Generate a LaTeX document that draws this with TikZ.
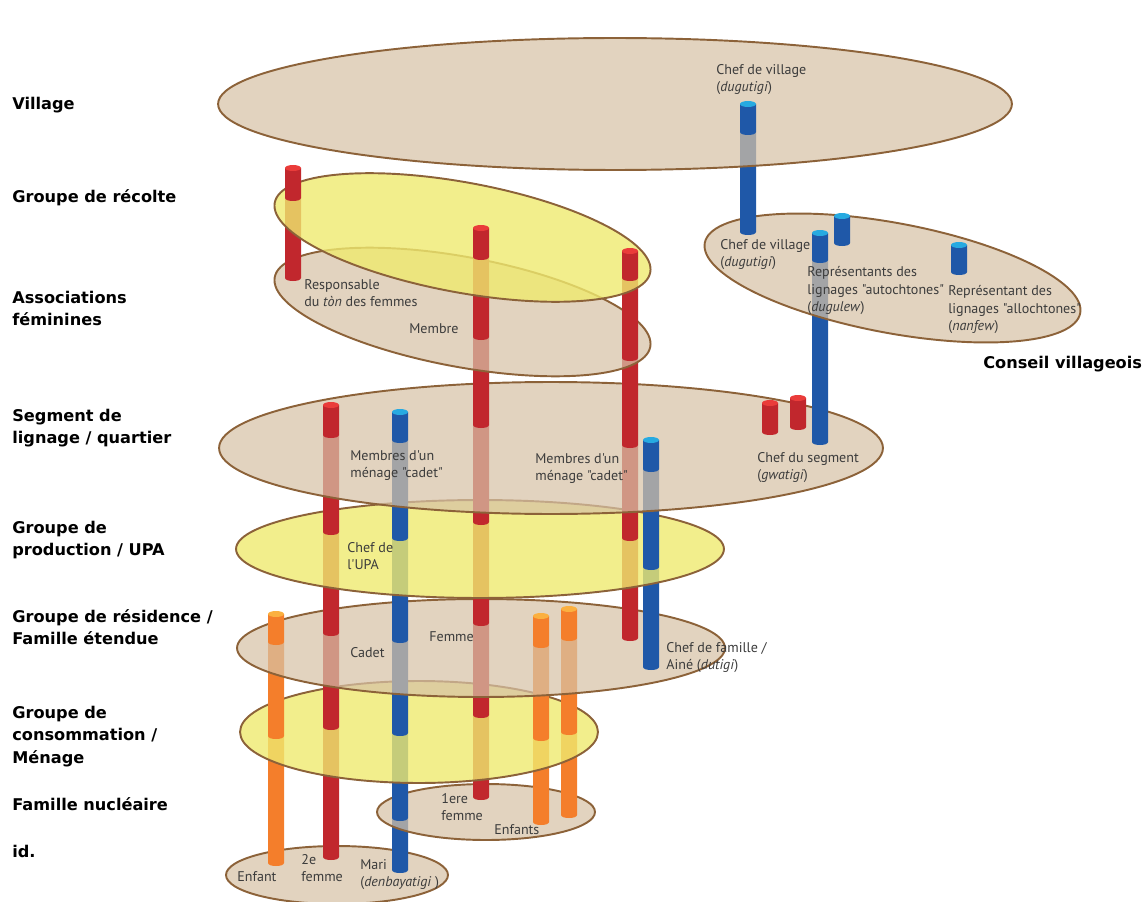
\documentclass[tikz,border=0pt]{standalone}
\usepackage{fontspec}
\usepackage{tikz}
\usetikzlibrary{positioning}
\newfontfamily\lvlfont{DejaVu Sans}
\newfontfamily\lblfont{PT Sans}
\definecolor{platebeige}{RGB}{215,194,166}
\definecolor{plateyellow}{RGB}{239,234,111}
\definecolor{platerim}{RGB}{140,98,57}
\definecolor{pillarred}{RGB}{193,39,45}
\definecolor{redtop}{RGB}{234,60,58}
\definecolor{pillarblue}{RGB}{31,88,168}
\definecolor{bluetop}{RGB}{39,170,225}
\definecolor{pillarorange}{RGB}{244,126,43}
\definecolor{orangetop}{RGB}{251,176,64}
\definecolor{roletext}{RGB}{60,60,60}
\tikzset{
    plate/.style={draw=platerim, line width=1.1pt, fill opacity=0.72},
    beigeplate/.style={plate, fill=platebeige},
    yellowplate/.style={plate, fill=plateyellow, fill opacity=0.8},
    level/.style={anchor=north west, inner sep=0pt, align=left, font=\lvlfont\bfseries\fontsize{9.2}{12.7}\selectfont},
    role/.style={anchor=north west, inner sep=0pt, align=left, text=roletext, font=\lblfont\fontsize{8}{10}\selectfont}
}
% one piece of a post: x, bottom, top, colour
\newcommand{\tube}[4]{\fill[#4] ({#1-8},#3) -- ({#1-8},#2) .. controls ({#1-8},{#2+4}) and ({#1+8},{#2+4}) .. ({#1+8},#2) -- ({#1+8},#3) -- cycle;}
\newcommand{\tubetop}[3]{\fill[#3] (#1,#2) ellipse [x radius=0.16cm, y radius=0.06cm];}

\begin{document}
\begin{tikzpicture}[x=0.02cm, y=-0.02cm]
\useasboundingbox (0,0) rectangle (1142,902);

% id.
\draw[beigeplate] (337,875) ellipse [x radius=2.22cm, y radius=0.58cm];
\tube{331}{857}{727}{pillarred}
\tube{400}{870}{818}{pillarblue}
\tube{276}{863}{736}{pillarorange}

% famille nucleaire
\draw[beigeplate] (486,812) ellipse [x radius=2.18cm, y radius=0.56cm];
\tube{481}{797}{715}{pillarred}
\tube{400}{818}{733}{pillarblue}
\tube{541}{822}{738}{pillarorange}
\tube{569}{815}{732}{pillarorange}

% menage
\draw[yellowplate] (419,732) ellipse [x radius=3.58cm, y radius=1.02cm];
\tube{481}{715}{623}{pillarred}
\tube{331}{727}{633}{pillarred}
\tube{400}{733}{640}{pillarblue}
\tube{276}{736}{642}{pillarorange}
\tube{541}{738}{645}{pillarorange}
\tube{569}{732}{638}{pillarorange}

% residence
\draw[beigeplate] (481,648) ellipse [x radius=4.88cm, y radius=0.98cm];
\tube{481}{623}{522}{pillarred}
\tube{630}{638}{538}{pillarred}
\tube{331}{633}{532}{pillarred}
\tube{400}{640}{538}{pillarblue}
\tube{651}{667}{567}{pillarblue}
\tube{276}{642}{614}{pillarorange}\tubetop{276}{614}{orangetop}
\tube{541}{645}{616}{pillarorange}\tubetop{541}{616}{orangetop}
\tube{569}{638}{609}{pillarorange}\tubetop{569}{609}{orangetop}

% UPA
\draw[yellowplate] (480,549) ellipse [x radius=4.88cm, y radius=0.98cm];
\tube{481}{522}{425}{pillarred}
\tube{630}{538}{445}{pillarred}
\tube{331}{532}{435}{pillarred}
\tube{400}{538}{440}{pillarblue}
\tube{651}{567}{469}{pillarblue}

% segment de lignage
\draw[beigeplate] (551,448) ellipse [x radius=6.64cm, y radius=1.32cm];
\tube{481}{425}{337}{pillarred}
\tube{630}{445}{358}{pillarred}
\tube{331}{435}{405}{pillarred}\tubetop{331}{405}{redtop}
\tube{400}{440}{412}{pillarblue}\tubetop{400}{412}{bluetop}
\tube{651}{469}{440}{pillarblue}\tubetop{651}{440}{bluetop}
\tube{820}{442}{260}{pillarblue}
\tube{770}{432}{403}{pillarred}\tubetop{770}{403}{redtop}
\tube{798}{427}{398}{pillarred}\tubetop{798}{398}{redtop}

% associations feminines
\draw[beigeplate, rotate around={-10.5:(462.5,312)}] (462.5,312) ellipse [x radius=3.82cm, y radius=1.1cm];
\tube{293}{278}{198}{pillarred}
\tube{481}{337}{257}{pillarred}
\tube{630}{358}{278}{pillarred}

% groupe de recolte
\draw[yellowplate, rotate around={-10.5:(462.5,237.5)}] (462.5,237.5) ellipse [x radius=3.82cm, y radius=1.1cm];
\tube{293}{198}{168}{pillarred}\tubetop{293}{168}{redtop}
\tube{481}{257}{228}{pillarred}\tubetop{481}{228}{redtop}
\tube{630}{278}{251}{pillarred}\tubetop{630}{251}{redtop}

% conseil villageois
\draw[beigeplate, rotate around={-10.6:(892.5,278)}] (892.5,278) ellipse [x radius=3.82cm, y radius=1.1cm];
\tube{748}{232}{132}{pillarblue}
\tube{820}{260}{233}{pillarblue}\tubetop{820}{233}{bluetop}
\tube{842}{243}{216}{pillarblue}\tubetop{842}{216}{bluetop}
\tube{959}{272}{245}{pillarblue}\tubetop{959}{245}{bluetop}

% village
\draw[beigeplate] (615,104) ellipse [x radius=7.94cm, y radius=1.32cm];
\tube{748}{132}{104}{pillarblue}\tubetop{748}{104}{bluetop}

% levels
\node[level] (village) at (12,97) {Village};
\node[level] (recolte) at (12,189) {Groupe de récolte};
\node[level] (associations) at (12,291) {Associations\\féminines};
\node[level] (segment) at (12,409) {Segment de\\lignage / quartier};
\node[level] (production) at (12,521) {Groupe de\\production / UPA};
\node[level] (residence) at (12,609) {Groupe de résidence /\\Famille étendue};
\node[level] (consommation) at (12,706) {Groupe de\\consommation /\\Ménage};
\node[level] (nucleaire) at (12,797) {Famille nucléaire};
\node[level] (ident) at (12,845) {id.};
\node[level] (conseil) at (983,356) {Conseil villageois};

% roles
\node[role] (chefvillage) at (716,64) {Chef de village\\(\textit{dugutigi})};
\node[role] (chefconseil) at (720,239) {Chef de village\\(\textit{dugutigi})};
\node[role] (autochtones) at (807,266) {Représentants des\\lignages "autochtones"\\(\textit{dugulew})};
\node[role] (allochtones) at (948,285) {Représentant des\\lignages "allochtones"\\(\textit{nanfew})};
\node[role] (responsable) at (304,279) {Responsable\\du \textit{tòn} des femmes};
\node[role] (membre) at (409,323) {Membre};
\node[role] (cadetleft) at (350,450) {Membres d'un\\ménage "cadet"};
\node[role] (cadetright) at (535,453) {Membres d'un\\ménage "cadet"};
\node[role] (chefsegment) at (757,452) {Chef du segment\\(\textit{gwatigi})};
\node[role] (chefupa) at (347,542) {Chef de\\l'UPA};
\node[role] (cadet) at (350,647) {Cadet};
\node[role] (femme) at (429,631) {Femme};
\node[role] (chefamille) at (666,642) {Chef de famille /\\Ainé (\textit{dutigi})};
\node[role] (premiere) at (441,793) {1ere\\femme};
\node[role] (enfants) at (494,824) {Enfants};
\node[role] (enfant) at (237,871) {Enfant};
\node[role] (deuxieme) at (301,854) {2e\\femme};
\node[role] (mari) at (360,859) {Mari\\(\textit{denbayatigi} )};
\end{tikzpicture}
\end{document}
